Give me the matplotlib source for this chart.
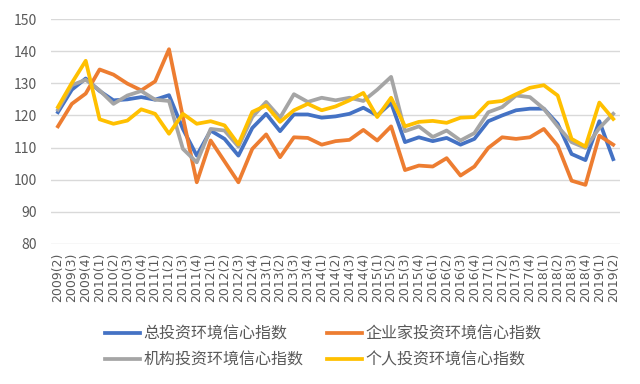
import matplotlib
matplotlib.use("Agg")
import matplotlib.pyplot as plt

plt.rcParams['font.family'] = ['Noto Sans CJK SC', 'DejaVu Sans']

# 季度标签 2009(2) ... 2019(2)
quarters = []
for y in range(2009, 2020):
    for q in range(1, 5):
        if (y == 2009 and q < 2) or (y == 2019 and q > 2):
            continue
        quarters.append(f"{y}({q})")

total = [121.0, 128.0, 131.5, 127.6, 124.7, 125.0, 125.7, 124.9, 126.3, 115.8, 107.5,
         115.3, 112.7, 107.5, 116.1, 120.5, 115.1, 120.3, 120.3, 119.3, 119.7,
         120.5, 122.4, 120.0, 123.9, 111.7, 113.2, 112.0, 113.0, 110.9, 112.7,
         118.2, 120.0, 121.6, 122.1, 122.1, 117.4, 108.0, 106.1, 118.2, 106.4]
entrepreneur = [116.6, 123.6, 126.8, 134.3, 132.7, 129.9, 127.8, 130.6, 140.6, 119.5, 99.2,
                112.2, 105.7, 99.2, 109.6, 114.1, 107.0, 113.2, 113.0, 110.9, 112.0,
                112.4, 115.5, 112.2, 116.6, 103.0, 104.4, 104.1, 106.7, 101.3, 104.1,
                109.9, 113.2, 112.7, 113.2, 115.8, 110.6, 99.7, 98.4, 113.7, 110.9]
institution = [121.8, 129.4, 131.1, 127.8, 123.6, 126.2, 127.6, 124.9, 124.5, 109.6, 105.4,
               115.8, 115.3, 110.3, 119.5, 124.2, 119.3, 126.6, 124.2, 125.5, 124.7,
               125.5, 124.5, 128.0, 132.0, 115.1, 116.6, 113.3, 115.3, 112.2, 114.5,
               121.0, 122.6, 126.2, 125.7, 122.1, 116.6, 111.7, 109.9, 116.1, 120.5]
individual = [122.6, 130.1, 137.0, 118.8, 117.4, 118.4, 121.9, 120.5, 114.3, 120.5, 117.4,
              118.2, 116.9, 111.0, 121.1, 123.1, 118.0, 121.6, 123.6, 121.6, 122.8,
              124.7, 127.0, 119.5, 125.5, 116.6, 118.0, 118.3, 117.7, 119.3, 119.5,
              124.0, 124.5, 126.6, 128.6, 129.4, 126.2, 112.7, 110.3, 124.0, 118.9]

series = [
    ("总投资环境信心指数", total, "#4472C4"),
    ("机构投资环境信心指数", institution, "#A5A5A5"),
    ("企业家投资环境信心指数", entrepreneur, "#ED7D31"),
    ("个人投资环境信心指数", individual, "#FFC000"),
]
draw_order = [0, 2, 1, 3]

fig = plt.figure(figsize=(6.4, 3.84), dpi=100)
ax = fig.add_axes([0.0797, 0.3646, 0.8893, 0.5859])

x = list(range(len(quarters)))
handles = {}
for i in draw_order:
    name, vals, col = series[i]
    h, = ax.plot(x, vals, color=col, lw=2.7, solid_joinstyle='round', label=name)
    handles[i] = h

ax.set_ylim(80, 150)
ax.set_yticks(range(80, 151, 10))
ax.set_xlim(-0.5, len(quarters) - 0.5)
ax.set_xticks(x)
ax.set_xticklabels(quarters, rotation=90, fontsize=9, color='#595959', family='DejaVu Sans')
ax.tick_params(axis='x', length=0, pad=6)
ax.tick_params(axis='y', length=0, pad=10, labelsize=10, labelcolor='#595959')
ax.grid(axis='y', color='#D9D9D9', lw=1)
ax.set_axisbelow(True)
for s in ax.spines.values():
    s.set_visible(False)

fig.legend([handles[i] for i in range(4)], [series[i][0] for i in range(4)],
           loc='center', bbox_to_anchor=(0.505, 0.097), ncol=2, frameon=False,
           fontsize=11.5, handlelength=2.2, handletextpad=0.2, columnspacing=1.5,
           labelspacing=0.55, labelcolor='#595959')

fig.savefig("out.png", dpi=100)
